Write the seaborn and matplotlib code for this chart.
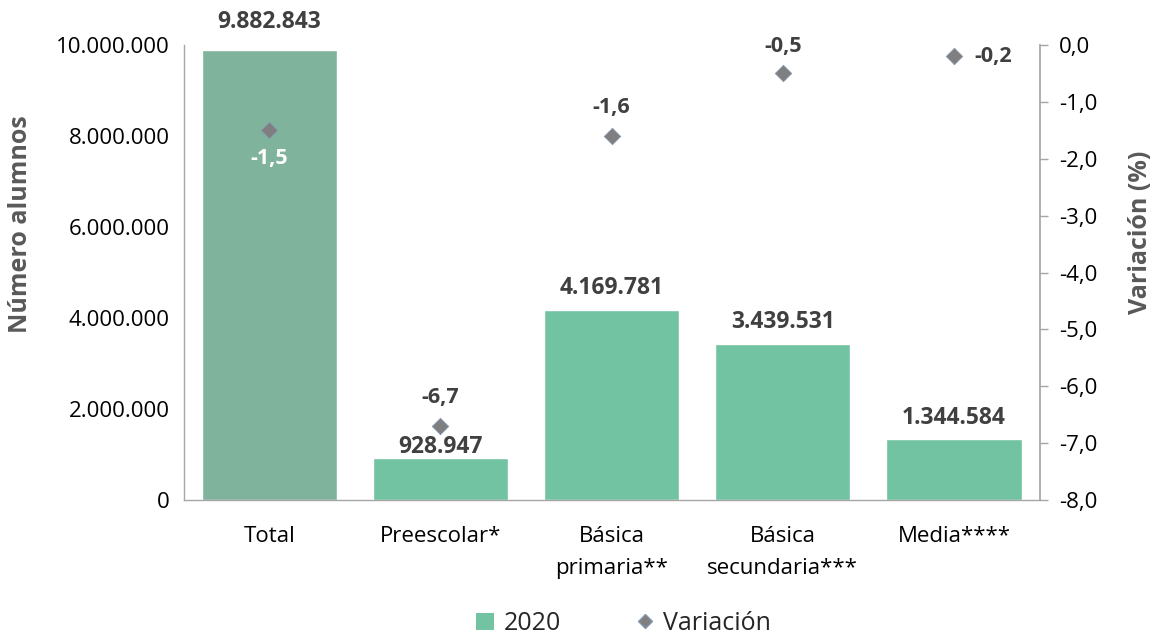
import pandas as pd
import matplotlib.pyplot as plt
import seaborn as sns
from matplotlib.lines import Line2D
from matplotlib.patches import Patch
from matplotlib.ticker import FuncFormatter

categorias = ["Total", "Preescolar*", "Básica\nprimaria**", "Básica\nsecundaria***", "Media****"]
alumnos_2020 = [9882843, 928947, 4169781, 3439531, 1344584]
variacion = [-1.5, -6.7, -1.6, -0.5, -0.2]

sns.set_theme(style="white")
plt.rcParams["font.family"] = ["Open Sans", "DejaVu Sans"]

df = pd.DataFrame({"categoria": categorias, "alumnos": alumnos_2020, "variacion": variacion})

fig = plt.figure(figsize=(11.55, 6.35), dpi=100)
ax1 = fig.add_axes([0.159, 0.2126, 0.741, 0.7165])

colores = ["#7fb39b", "#72c3a1", "#72c3a1", "#72c3a1", "#72c3a1"]
sns.barplot(data=df, x="categoria", y="alumnos", hue="categoria", palette=colores,
            width=0.79, legend=False, ax=ax1, saturation=1)
ax1.set_ylim(0, 10000000)
ax1.set_xlim(-0.5, 4.5)
ax1.yaxis.set_major_formatter(FuncFormatter(lambda v, p: f"{int(v):,}".replace(",", ".")))
ax1.set_yticks(range(0, 10000001, 2000000))
ax1.tick_params(axis="y", labelsize=16, colors="#000000", length=0, pad=10)
ax1.tick_params(axis="x", labelsize=16, colors="#000000", length=0, pad=19)
for lab in ax1.get_xticklabels():
    lab.set_linespacing(1.65)
ax1.set_xlabel("")
ax1.set_ylabel("Número alumnos", fontsize=18, fontweight="bold", color="#595959")
ax1.yaxis.set_label_coords(-0.176, 0.607)
for s in ["top", "right"]:
    ax1.spines[s].set_visible(False)
for s in ["left", "bottom"]:
    ax1.spines[s].set_color("#a6a6a6")
    ax1.spines[s].set_linewidth(1)

# separación de etiquetas sobre cada barra
sep = [620000, 240000, 480000, 470000, 460000]
for i, v in enumerate(alumnos_2020):
    ax1.text(i, v + sep[i], f"{v:,}".replace(",", "."), ha="center", va="center",
             fontsize=16.5, fontweight="bold", color="#404040")

ax2 = ax1.twinx()
sns.scatterplot(data=df, x="categoria", y="variacion", marker="D", s=70, color="#7f7f7f",
                edgecolor="#8497b0", linewidth=0.6, ax=ax2, zorder=5)
ax2.set_ylim(-8, 0)
ax2.set_yticks([-8, -7, -6, -5, -4, -3, -2, -1, 0])
ax2.yaxis.set_major_formatter(FuncFormatter(lambda v, p: f"{v:.1f}".replace(".", ",")))
ax2.tick_params(axis="y", labelsize=16, colors="#000000", length=6, width=1, pad=8,
                direction="out", right=True)
ax2.tick_params(axis="y", color="#a6a6a6")
ax2.set_ylabel("Variación (%)", fontsize=18, fontweight="bold", color="#595959")
ax2.yaxis.set_label_coords(1.103, 0.589)
for s in ["top", "left", "bottom"]:
    ax2.spines[s].set_visible(False)
ax2.spines["right"].set_color("#a6a6a6")

offsets = [(0, -0.5, "white", "center"), (0, 0.5, "#404040", "center"),
           (0, 0.5, "#404040", "center"), (0, 0.48, "#404040", "center"),
           (0.12, 0.0, "#404040", "left")]
for i, v in enumerate(variacion):
    dx, dy, c, ha = offsets[i]
    ax2.text(i + dx, v + dy, f"{v:.1f}".replace(".", ","), ha=ha, va="center",
             fontsize=15.5, fontweight="bold", color=c, zorder=6)

handles = [Patch(facecolor="#72c3a1", edgecolor="none", label="2020"),
           Line2D([], [], marker="D", color="none", markerfacecolor="#7f7f7f",
                  markeredgecolor="#8497b0", markersize=7, label="Variación")]
fig.legend(handles=handles, loc="center", bbox_to_anchor=(0.54, 0.018), ncol=2,
           frameon=False, fontsize=18, handlelength=0.7, handleheight=0.7,
           columnspacing=3.0, handletextpad=0.4)

fig.savefig("out.png", dpi=100)
